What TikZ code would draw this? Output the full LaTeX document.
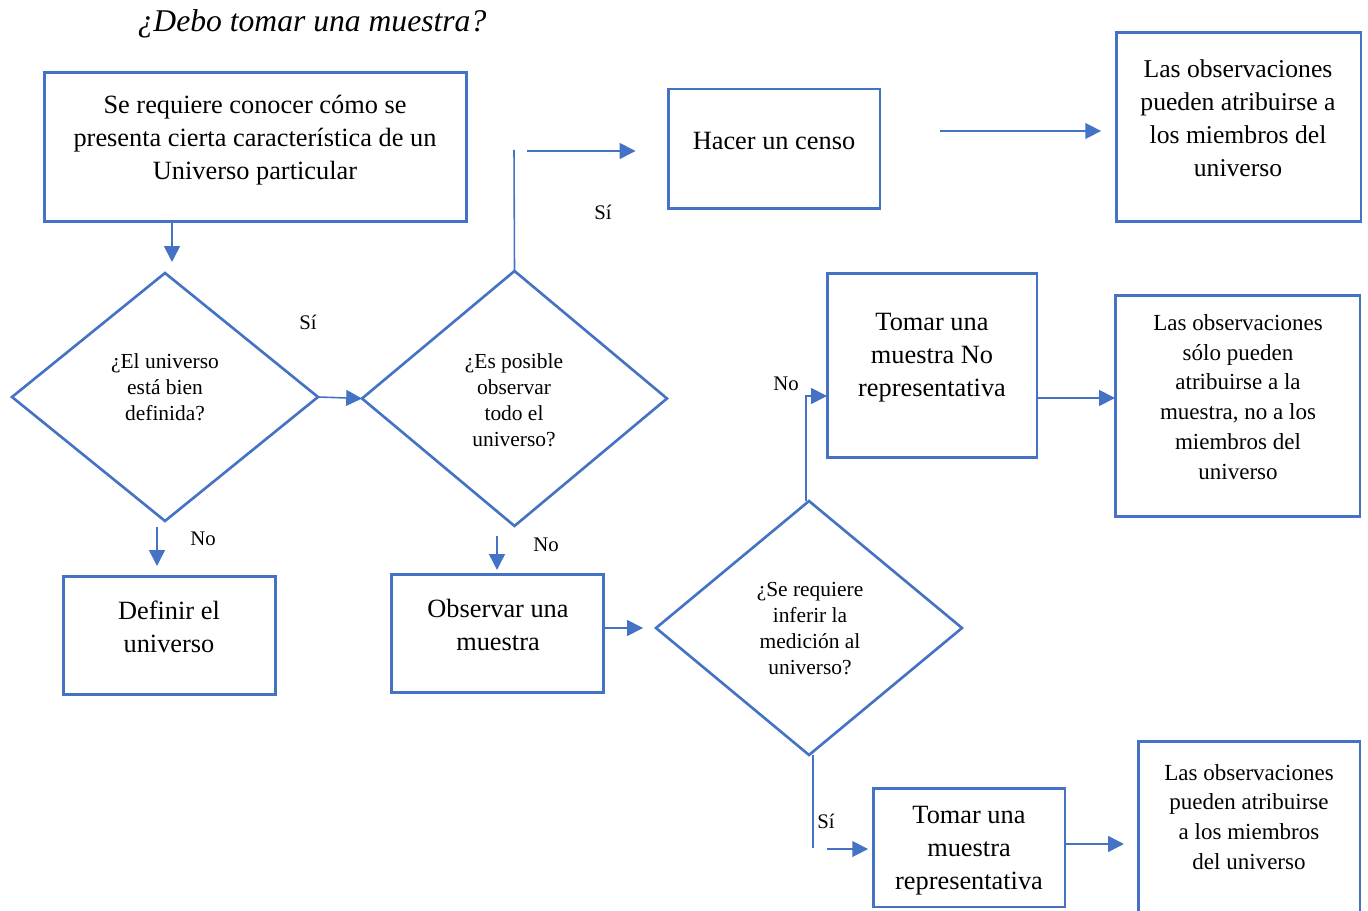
\documentclass[tikz,border=0pt]{standalone}
\usepackage{fontspec}
\setmainfont{Liberation Serif}
\usetikzlibrary{arrows.meta,shapes.geometric}
\definecolor{blu}{HTML}{4472C4}
\begin{document}
\begin{tikzpicture}[x=0.02cm,y=-0.02cm,
  box/.style={draw=blu,line width=1.7pt,inner sep=0pt,outer sep=0pt},
  dia/.style={diamond,draw=blu,line width=1.5pt,inner sep=0pt,outer sep=0pt},
  conn/.style={draw=blu,line width=0.9pt},
  arr/.style={conn,-{Triangle[length=9pt,width=9pt]}},
  big/.style={align=center,font=\fontsize{15}{18.7}\selectfont,inner sep=0pt},
  rbig/.style={align=center,font=\fontsize{14.6}{18.7}\selectfont,inner sep=0pt},
  mid/.style={align=center,font=\fontsize{13.1}{17}\selectfont,inner sep=0pt},
  dtext/.style={align=center,font=\fontsize{12.2}{14.8}\selectfont,inner sep=0pt},
  lab/.style={font=\fontsize{11.8}{14}\selectfont,inner sep=0pt}]
\useasboundingbox (0,0) rectangle (1368,911);
\clip (0,0) rectangle (1368,911);

% title
\node[font=\fontsize{18}{22}\selectfont\itshape,inner sep=0pt] (title) at (312,24) {¿Debo tomar una muestra?};

% boxes
\node[box,minimum width=8.46cm,minimum height=3cm] (A) at (255.5,147) {};
\node[big] (tA) at (255,140) {Se requiere conocer cómo se\\presenta cierta característica de un\\Universo particular};

\node[box,minimum width=4.24cm,minimum height=2.4cm] (H) at (774,149) {};
\node[big] (tH) at (774,141) {Hacer un censo};

\node[box,minimum width=4.9cm,minimum height=3.8cm] (R1) at (1238.5,127) {};
\node[rbig] (tR1) at (1238,118) {Las observaciones\\pueden atribuirse a\\los miembros del\\universo};

\node[box,minimum width=4.26cm,minimum height=2.38cm] (Def) at (169.5,635.5) {};
\node[big] (tDef) at (169,627) {Definir el\\universo};

\node[box,minimum width=4.26cm,minimum height=2.38cm] (Obs) at (497.5,633.5) {};
\node[big] (tObs) at (498,625) {Observar una\\muestra};

\node[box,minimum width=4.2cm,minimum height=3.7cm] (TNR) at (932,365.5) {};
\node[big] (tTNR) at (932,358) {Tomar una\\muestra No\\representativa};

\node[box,minimum width=4.9cm,minimum height=4.44cm] (R2) at (1237.5,406) {};
\node[mid] (tR2) at (1238,397) {Las observaciones\\sólo pueden\\atribuirse a la\\muestra, no a los\\miembros del\\universo};

\node[box,minimum width=3.84cm,minimum height=2.38cm] (TR) at (969,847.5) {};
\node[big] (tTR) at (969,851) {Tomar una\\muestra\\representativa};

\node[box,minimum width=4.44cm,minimum height=3.98cm] (R3) at (1249,840.5) {};
\node[mid] (tR3) at (1249,817) {Las observaciones\\pueden atribuirse\\a los miembros\\del universo};

% diamonds
\node[dia,minimum width=6.12cm,minimum height=4.96cm] (D1) at (165,397) {};
\node[dtext] (tD1) at (165,387) {¿El universo\\está bien\\definida?};
\node[dia,minimum width=6.1cm,minimum height=5.1cm] (D2) at (514.5,398.5) {};
\node[dtext] (tD2) at (514,400) {¿Es posible\\observar\\todo el\\universo?};
\node[dia,minimum width=6.12cm,minimum height=5.08cm] (D3) at (809,628) {};
\node[dtext] (tD3) at (810,629) {¿Se requiere\\inferir la\\medición al\\universo?};

% connectors
\coordinate (c1) at (172,262);
\draw[arr] (A.south -| c1) -- (c1);
\draw[arr] (D1.east) -- (D2.west);
\coordinate (c2) at (514,150);
\draw[conn] (D2.north) -- (c2);
\coordinate (c3) at (527,151);
\draw[arr,shorten >=18.5pt] (c3) -- (c3 -| H.west);
\coordinate (c4) at (940,131);
\draw[arr,shorten >=8.5pt] (c4) -- (c4 -| R1.west);
\coordinate (c5) at (157,527);
\draw[arr,shorten >=5.7pt] (c5) -- (c5 |- Def.north);
\coordinate (c6) at (497,536);
\draw[arr,shorten >=2.3pt] (c6) -- (c6 |- Obs.north);
\draw[arr,shorten >=7.4pt] (Obs.east |- D3.west) -- (D3.west);
\coordinate (c7) at (806,396);
\draw[arr] (D3.north -| c7) -- (c7) -- (c7 -| TNR.west);
\coordinate (c8) at (1037,398);
\draw[arr] (c8 -| TNR.east) -- (c8 -| R2.west);
\coordinate (c9) at (813,848);
\draw[conn] (D3.south -| c9) -- (c9);
\coordinate (c10) at (827,849);
\draw[arr,shorten >=2.8pt] (c10) -- (c10 -| TR.west);
\coordinate (c11) at (1065,844);
\draw[arr,shorten >=8pt] (c11 -| TR.east) -- (c11 -| R3.west);

% labels
\node[lab] (l1) at (308,322) {Sí};
\node[lab] (l2) at (603,212) {Sí};
\node[lab] (l3) at (203,539) {No};
\node[lab] (l4) at (546,545) {No};
\node[lab] (l5) at (786,384) {No};
\node[lab] (l6) at (826,821) {Sí};
\end{tikzpicture}
\end{document}
